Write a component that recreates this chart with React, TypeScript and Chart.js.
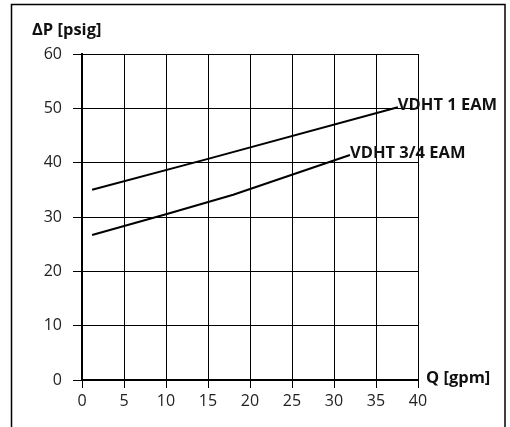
import React, { useEffect, useRef } from "react";
import { Chart, registerables } from "chart.js";

Chart.register(...registerables);

const seriesNames = ["VDHT 1 EAM", "VDHT 3/4 EAM"];
const flow1 = [1.2, 15, 37.6];
const dp1 = [35, 40.7, 50.2];
const flow34 = [1.2, 10, 18, 31.9];
const dp34 = [26.7, 30.5, 34.1, 41.4];
const xTickValues = [0, 5, 10, 15, 20, 25, 30, 35, 40];
const yTickValues = [0, 10, 20, 30, 40, 50, 60];
const yTitle = "ΔP [psig]";
const xTitle = "Q [gpm]";

const FONT = "'Open Sans', 'Noto Sans', sans-serif";

export default function App() {
  const ref = useRef<HTMLCanvasElement | null>(null);
  useEffect(() => {
    if (!ref.current) return;
    const decor = {
      id: "decor",
      afterDraw(chart: any) {
        const ctx = chart.ctx;
        const xs = chart.scales.x;
        const ys = chart.scales.y;
        ctx.save();
        ctx.strokeStyle = "#000";
        ctx.lineWidth = 1.5;
        ctx.strokeRect(11.5, 4.5, 493.5, 440);
        ctx.fillStyle = "#111";
        ctx.font = `bold 16.5px ${FONT}`;
        ctx.textAlign = "left";
        ctx.textBaseline = "alphabetic";
        ctx.fillText(yTitle, 32, 35);
        ctx.fillText(xTitle, 426, 383);
        ctx.font = `bold 16.5px ${FONT}`;
        ctx.textBaseline = "middle";
        const ends = [
          [flow1[flow1.length - 1], dp1[dp1.length - 1]],
          [flow34[flow34.length - 1], dp34[dp34.length - 1]],
        ];
        ends.forEach((e, i) => {
          const px = xs.getPixelForValue(e[0]);
          const py = ys.getPixelForValue(e[1]);
          ctx.fillText(seriesNames[i], px, py - 2);
        });
        ctx.restore();
      },
    };
    const chart = new Chart(ref.current, {
      type: "scatter",
      data: {
        datasets: [
          {
            label: seriesNames[0],
            data: flow1.map((x, i) => ({ x, y: dp1[i] })),
            showLine: true,
            borderColor: "#000",
            borderWidth: 2,
            pointRadius: 0,
          },
          {
            label: seriesNames[1],
            data: flow34.map((x, i) => ({ x, y: dp34[i] })),
            showLine: true,
            borderColor: "#000",
            borderWidth: 2,
            pointRadius: 0,
          },
        ],
      },
      options: {
        responsive: false,
        animation: false,
        layout: { padding: { left: 0, top: 54, right: 92, bottom: 0 } },
        plugins: {
          legend: { display: false },
          tooltip: { enabled: false },
        },
        scales: {
          x: {
            type: "linear",
            min: 0,
            max: 40,
            afterBuildTicks: (s: any) => {
              s.ticks = xTickValues.map((v) => ({ value: v }));
            },
            afterFit: (s: any) => {
              s.height = 47;
            },
            grid: { color: "#000", lineWidth: 1, tickLength: 8, drawTicks: true },
            border: { display: true, color: "#000", width: 2 },
            ticks: {
              color: "#222",
              font: { family: FONT, size: 16 },
              padding: 4,
              maxRotation: 0,
            },
          },
          y: {
            type: "linear",
            min: 0,
            max: 60,
            afterBuildTicks: (s: any) => {
              s.ticks = yTickValues.map((v) => ({ value: v }));
            },
            afterFit: (s: any) => {
              s.width = 82;
            },
            grid: { color: "#000", lineWidth: 1, tickLength: 9, drawTicks: true },
            border: { display: true, color: "#000", width: 2 },
            ticks: {
              color: "#222",
              font: { family: FONT, size: 16 },
              padding: 11,
            },
          },
        },
      },
      plugins: [decor],
    });
    return () => chart.destroy();
  }, []);
  return (
    <div style={{ position: "absolute", left: 0, top: 0, width: 510, height: 427 }}>
      <canvas ref={ref} width={510} height={427} style={{ width: 510, height: 427 }} />
    </div>
  );
}
